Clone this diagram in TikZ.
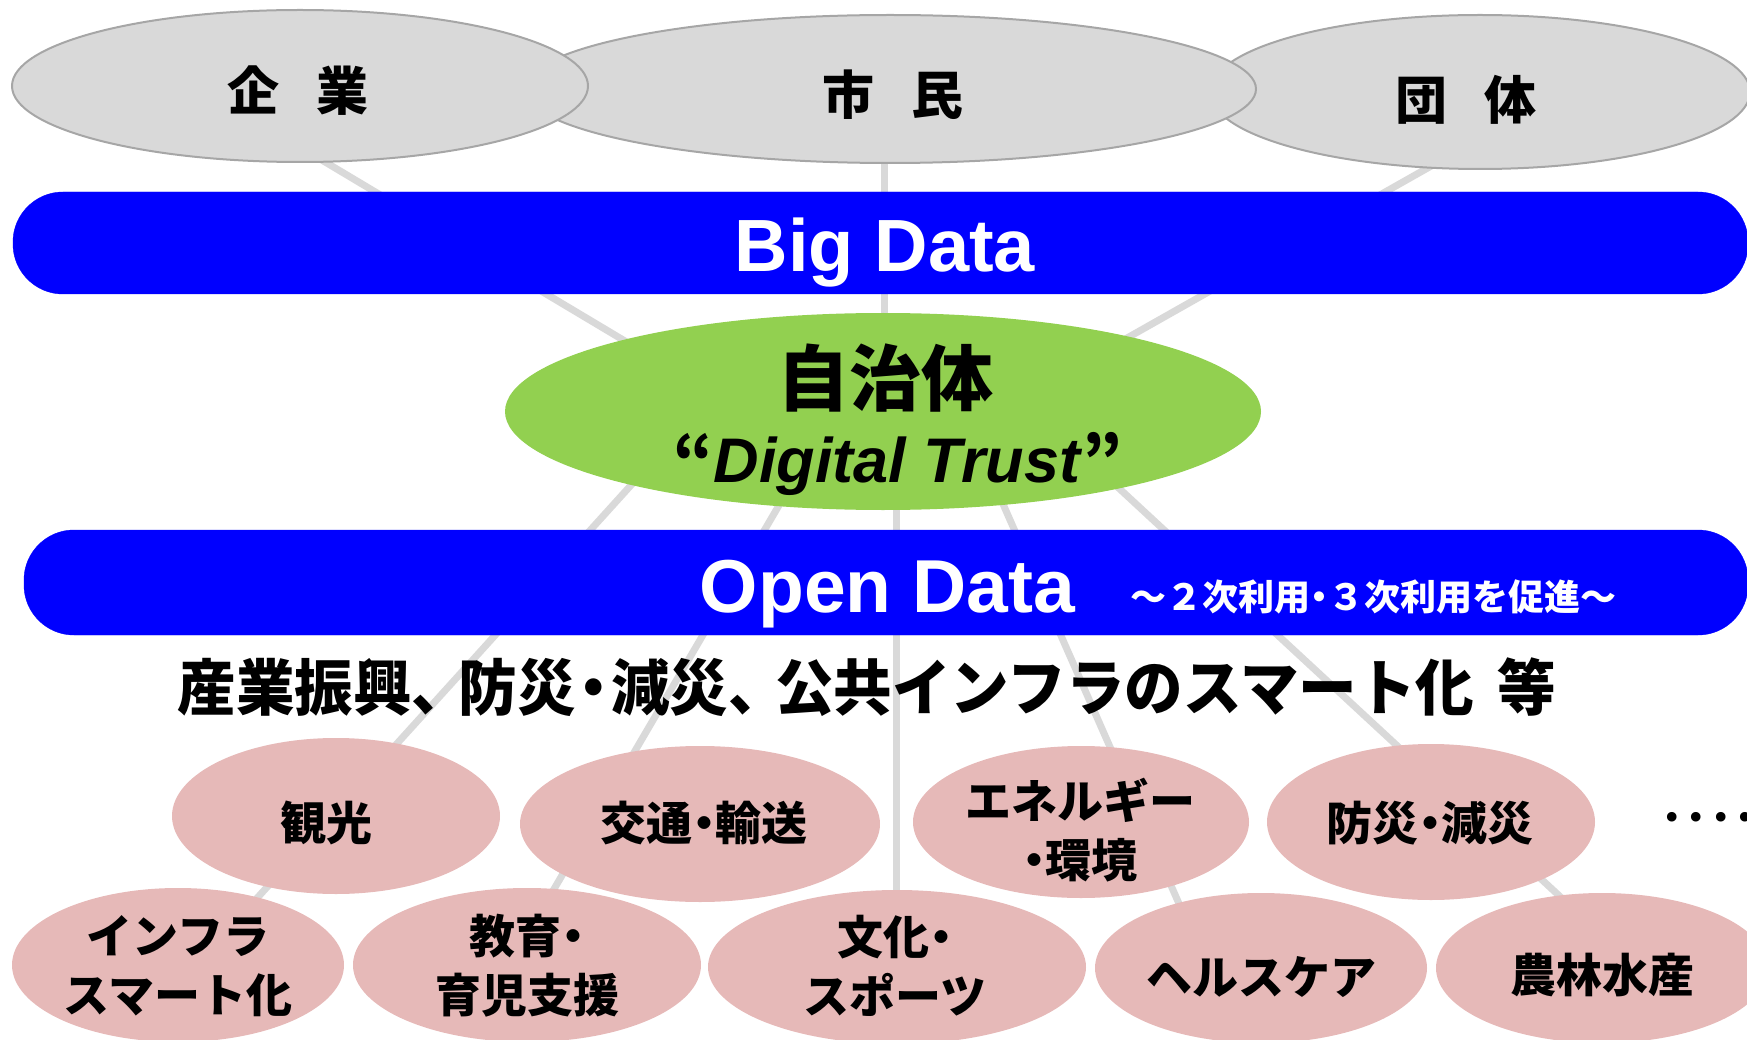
\documentclass[tikz,border=0pt]{standalone}
\usepackage{fontspec}
\usepackage{graphicx}
\setmainfont{Liberation Sans}
\newfontfamily\jp{Noto Sans CJK JP}
\newfontfamily\dotfont{DejaVu Sans}
\usetikzlibrary{shapes.geometric}
\definecolor{topgrey}{HTML}{D9D9D9}
\definecolor{topedge}{HTML}{A6A6A6}
\definecolor{linkgrey}{HTML}{D9D9D9}
\definecolor{pinkfill}{HTML}{E6B9B8}
\definecolor{greenfill}{HTML}{92D050}
\definecolor{barblue}{HTML}{0000FF}
\newcommand\jpdot[1][0.5em]{\makebox[#1][c]{・}}
\newcommand\jpcomma{\makebox[0.8em][l]{、}}
\tikzset{
  topell/.style={ellipse, draw=topedge, line width=2pt, fill=topgrey, inner sep=0pt},
  pinkell/.style={ellipse, fill=pinkfill, inner sep=0pt},
  greenell/.style={ellipse, fill=greenfill, inner sep=0pt},
  databar/.style={rectangle, rounded corners=50pt, fill=barblue, draw=barblue, inner sep=0pt},
  link/.style={draw=linkgrey, line width=7pt},
  toptext/.style={font=\jp\bfseries\fontsize{52}{60}\selectfont, inner sep=0pt},
  celltext/.style={font=\jp\bfseries\fontsize{46}{59}\selectfont, align=center, inner sep=0pt},
  bartext/.style={font=\bfseries\fontsize{74}{80}\selectfont, text=white, inner sep=0pt, anchor=base},
}
\begin{document}
\begin{tikzpicture}[x=1pt,y=-1pt]
\useasboundingbox (0,0) rectangle (1747,1040);
\clip (0,0) rectangle (1747,1040);
% connector end points
\coordinate (a1) at (300,147);  \coordinate (a2) at (650,356);
\coordinate (b1) at (884,160);  \coordinate (b2) at (884,330);
\coordinate (c1) at (1440,161); \coordinate (c2) at (1120,342);
\coordinate (d1) at (700,409);  \coordinate (d2) at (230,928);
\coordinate (e1) at (829,420);  \coordinate (e2) at (530,930);
\coordinate (f1) at (896,420);  \coordinate (f2) at (896,930);
\coordinate (g1) at (966,420);  \coordinate (g2) at (1195,940);
\coordinate (h1) at (1056,430); \coordinate (h2) at (1607,940);
\draw[link] (a1) -- (a2);
\draw[link] (b1) -- (b2);
\draw[link] (c1) -- (c2);
\draw[link] (d1) -- (d2);
\draw[link] (e1) -- (e2);
\draw[link] (f1) -- (f2);
\draw[link] (g1) -- (g2);
\draw[link] (h1) -- (h2);
% top ellipses
\node[topell, minimum width=540pt, minimum height=154pt] (dantai) at (1480,92) {};
\node[topell, minimum width=732pt, minimum height=148pt] (shimin) at (890,89) {};
\node[topell, minimum width=576pt, minimum height=152pt] (kigyo) at (300,86) {};
\node[toptext] (kigyoT) at (298,91) {企\hspace{0.72em}業};
\node[toptext] (shiminT) at (893,95) {市\hspace{0.72em}民};
\node[toptext] (dantaiT) at (1466,100) {団\hspace{0.72em}体};
% Big Data bar
\node[databar, minimum width=1735pt, minimum height=102pt] (bigbar) at (880.5,243) {};
\node[bartext] (bigT) at (885,272) {Big Data};
% central ellipse
\node[greenell, minimum width=756pt, minimum height=197pt] (jichi) at (883,411.5) {};
\node[font=\jp\bfseries\fontsize{72}{80}\selectfont, inner sep=0pt] (jichiT) at (885,378) {自治体};
\node[font=\bfseries\fontsize{63}{70}\selectfont, inner sep=0pt, anchor=base] (trustT) at (898,482) {{\jp “}\textit{Digital Trust}{\jp ”}};
% Open Data bar
\node[databar, minimum width=1724pt, minimum height=105pt] (openbar) at (886,582.5) {};
\node[bartext, font=\bfseries\fontsize{75}{80}\selectfont] (openT) at (887.5,612) {Open Data};
\node[font=\jp\bfseries\fontsize{36}{40}\selectfont, text=white, inner sep=0pt] (openSub) at (1373,597) {～２次利用\jpdot３次利用を促進～};
% fields line
\node[font=\jp\bfseries\fontsize{61}{70}\selectfont, inner sep=0pt] (fields) at (867,687) {\scalebox{0.96}[1]{産業振興\jpcomma 防災\jpdot[0.6em]減災\jpcomma 公共インフラのスマート化\hspace{0.4em}等}};
% row 1
\node[pinkell, minimum width=328pt, minimum height=156pt] (kanko) at (336,816) {};
\node[pinkell, minimum width=360pt, minimum height=156pt] (kotsu) at (700,824) {};
\node[pinkell, minimum width=336pt, minimum height=152pt] (energy) at (1081,822) {};
\node[pinkell, minimum width=328pt, minimum height=156pt] (bousai) at (1431,822) {};
% row 2
\node[pinkell, minimum width=332pt, minimum height=154pt] (infra) at (178,965) {};
\node[pinkell, minimum width=348pt, minimum height=154pt] (kyoiku) at (527,965) {};
\node[pinkell, minimum width=378pt, minimum height=154pt] (bunka) at (897,967) {};
\node[pinkell, minimum width=332pt, minimum height=150pt] (health) at (1261,968) {};
\node[pinkell, minimum width=332pt, minimum height=150pt] (nourin) at (1602,968) {};
% labels
\node[celltext] (kankoT) at (326,823) {観光};
\node[celltext] (kotsuT) at (704,823) {交通\jpdot 輸送};
\node[celltext] (energyT) at (1080,830) {エネルギー\\\jpdot 環境};
\node[celltext] (bousaiT) at (1430,823) {防災\jpdot 減災};
\node[celltext] (infraT) at (178,966) {インフラ\\スマート化};
\node[celltext] (kyoikuT) at (527,966) {教育\jpdot\\育児支援};
\node[celltext] (bunkaT) at (895,966) {文化\jpdot\\スポーツ};
\node[celltext] (healthT) at (1261,977) {ヘルスケア};
\node[celltext] (nourinT) at (1602,975) {農林水産};
\node[anchor=west, inner sep=0pt, font=\dotfont\fontsize{33}{36}\selectfont] (more) at (1662,821) {•\hspace{5pt}•\hspace{5pt}•\hspace{5pt}•};
\end{tikzpicture}
\end{document}
